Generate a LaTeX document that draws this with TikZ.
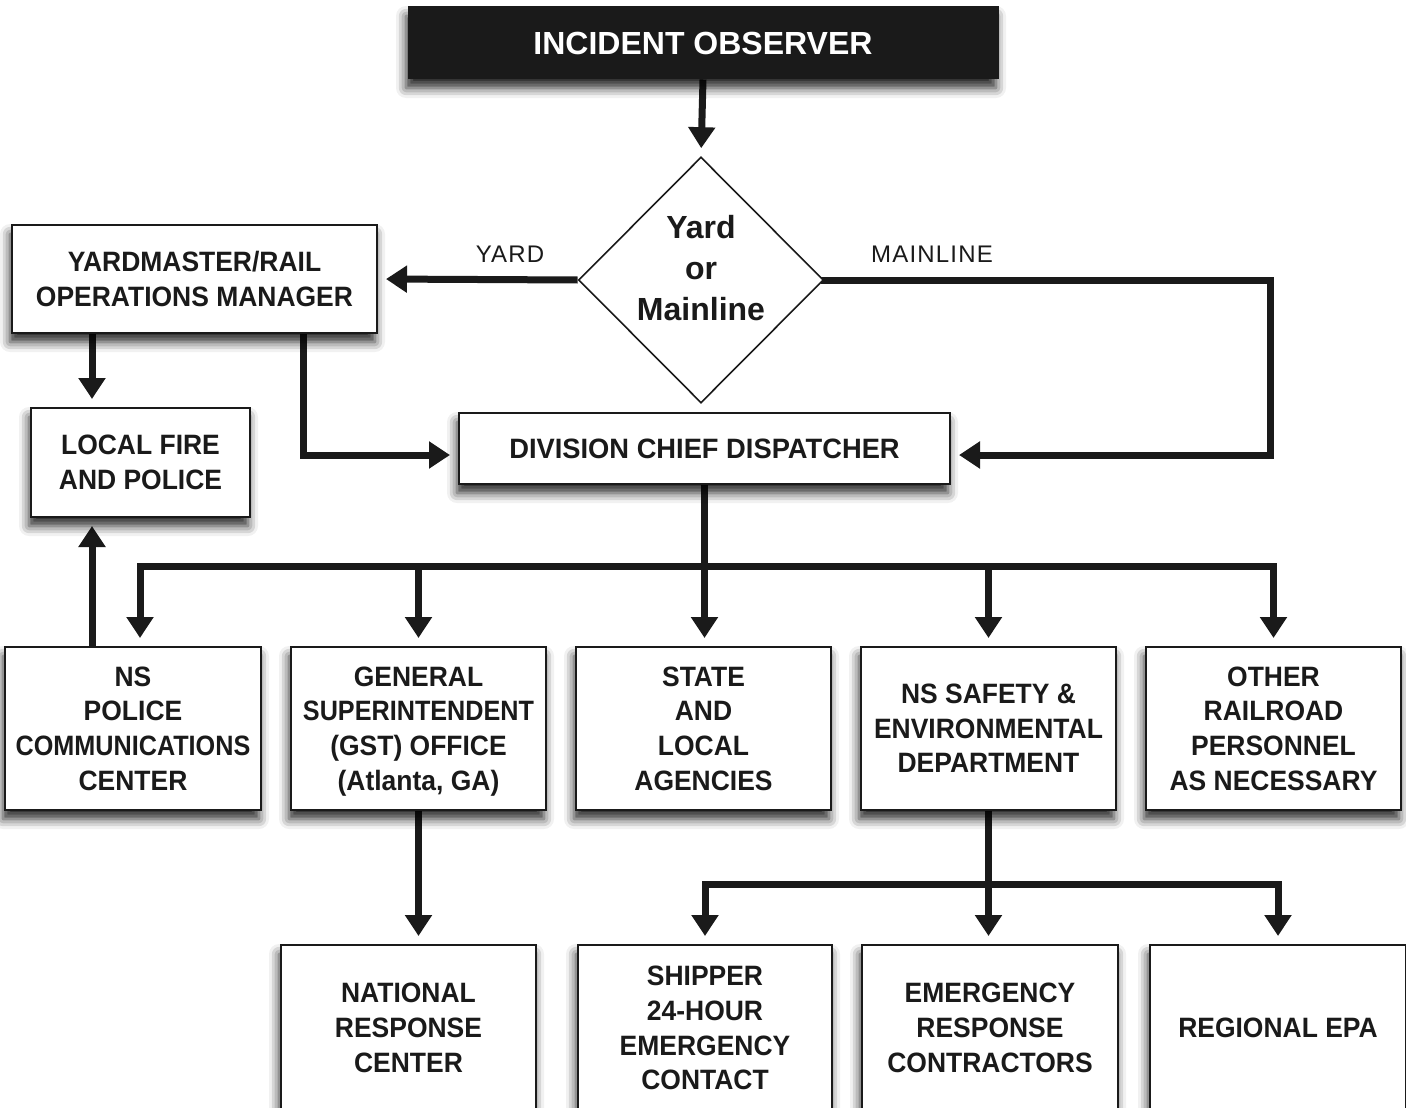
\documentclass[tikz,border=0pt]{standalone}
\usepackage{fontspec}
\setmainfont{Liberation Sans}
\newfontfamily\condfont{Liberation Sans}[FakeStretch=0.945]
\newfontfamily\tightfont{Liberation Sans}[FakeStretch=0.9]
\newfontfamily\dispfont{Liberation Sans}[FakeStretch=0.975]
\newfontfamily\labfont{Liberation Sans}[LetterSpace=5]
\usetikzlibrary{arrows.meta,shapes.geometric,shadows.blur}
\pgfdeclarelayer{bg}
\pgfsetlayers{bg,main}
\definecolor{ink}{HTML}{1A1A1A}
\begin{document}
\begin{tikzpicture}[x=1pt,y=-1pt,
  shad/.style={blur shadow={shadow xshift=-2pt,shadow yshift=-9pt,shadow blur radius=10pt,shadow opacity=85}},
  box/.style={shad,draw=ink,line width=2pt,fill=white,inner sep=0pt,align=center,text=ink,
    font=\condfont\bfseries\fontsize{28}{34.7}\selectfont},
  obsbox/.style={shad,draw=ink,line width=1pt,fill=ink,inner sep=0pt,align=center,text=white,
    font=\bfseries\fontsize{32}{36}\selectfont},
  decis/.style={diamond,draw=ink,line width=1.6pt,fill=white,inner sep=0pt,aspect=1},
  dtext/.style={align=center,text=ink,font=\bfseries\fontsize{32}{41}\selectfont},
  lab/.style={text=ink,font=\labfont\fontsize{24}{28}\selectfont},
  conn/.style={draw=ink,line width=7pt,line cap=rect},
  arr/.style={draw=ink,line width=7pt,-{Triangle[width=26pt,length=21pt]},shorten >=8pt}]
\useasboundingbox (0,0) rectangle (1406,1108);

% nodes
\node[obsbox,minimum width=590pt,minimum height=72pt] (obs) at (703,43) {INCIDENT OBSERVER};
\node[decis,minimum width=245pt,minimum height=246pt] (dia) at (701,280) {};
\node[dtext] (diat) at (701,268) {Yard\\or\\Mainline};
\node[box,minimum width=365pt,minimum height=108pt] (yard) at (194.5,279) {YARDMASTER/RAIL\\OPERATIONS MANAGER};
\node[box,minimum width=219pt,minimum height=109pt] (fire) at (140.5,462.5) {LOCAL FIRE\\AND POLICE};
\node[box,minimum width=491pt,minimum height=71pt,font=\dispfont\bfseries\fontsize{28}{34.7}\selectfont] (disp) at (704.5,448.5) {DIVISION CHIEF DISPATCHER};

\node[box,minimum width=256pt,minimum height=163pt] (police) at (133,728.5) {NS\\POLICE\\{\tightfont\bfseries COMMUNICATIONS}\\CENTER};
\node[box,minimum width=255pt,minimum height=163pt] (gen) at (418.5,728.5) {GENERAL\\{\tightfont\bfseries SUPERINTENDENT}\\(GST) OFFICE\\\smash{(Atlanta, GA)}};
\node[box,minimum width=255pt,minimum height=163pt] (state) at (703.5,728.5) {STATE\\AND\\LOCAL\\AGENCIES};
\node[box,minimum width=255pt,minimum height=163pt] (safety) at (988.5,728.5) {NS SAFETY \&\\ENVIRONMENTAL\\DEPARTMENT};
\node[box,minimum width=255pt,minimum height=163pt] (other) at (1273.5,728.5) {OTHER\\RAILROAD\\PERSONNEL\\AS NECESSARY};

\node[box,minimum width=255pt,minimum height=166pt] (nat) at (408.5,1028) {NATIONAL\\RESPONSE\\CENTER};
\node[box,minimum width=254pt,minimum height=166pt] (ship) at (705,1028) {SHIPPER\\24-HOUR\\EMERGENCY\\CONTACT};
\node[box,minimum width=256pt,minimum height=166pt] (emerg) at (990,1028) {EMERGENCY\\RESPONSE\\CONTRACTORS};
\node[box,minimum width=256pt,minimum height=166pt] (reg) at (1278,1028) {REGIONAL EPA};

\node[lab] (ylab) at (510,254) {YARD};
\node[lab] (mlab) at (932,254) {MAINLINE};

% helper coordinates
\coordinate (xl) at (92,0);
\coordinate (xr) at (303,0);
\coordinate (xm) at (1270,0);
\coordinate (ym) at (0,455);
\coordinate (xp) at (140,0);
\coordinate (bus) at (0,566);
\coordinate (bus2) at (0,884);

\begin{pgfonlayer}{bg}
\draw[arr] (obs.south) -- (dia.north);
\draw[arr] (dia.west) -- (yard.east);
\draw[conn] (dia.east) -- (xm |- dia.east) -- (xm |- ym);
\draw[arr] (xm |- ym) -- (disp.east |- ym);
\draw[arr] (xl |- yard.south) -- (xl |- fire.north);
\draw[conn] (xr |- yard.south) -- (xr |- ym);
\draw[arr] (xr |- ym) -- (disp.west |- ym);
\draw[arr] (xl |- police.north) -- (xl |- fire.south);
% dispatcher bus
\draw[arr] (disp.south) -- (disp.south |- state.north);
\draw[conn] (xp |- bus) -- (other.north |- bus);
\draw[arr] (xp |- bus) -- (xp |- police.north);
\draw[arr] (gen.north |- bus) -- (gen.north);
\draw[arr] (safety.north |- bus) -- (safety.north);
\draw[arr] (other.north |- bus) -- (other.north);
% general to national
\draw[arr] (gen.south) -- (gen.south |- nat.north);
% safety bus
\draw[arr] (safety.south) -- (safety.south |- emerg.north);
\draw[conn] (ship.north |- bus2) -- (reg.north |- bus2);
\draw[arr] (ship.north |- bus2) -- (ship.north);
\draw[arr] (reg.north |- bus2) -- (reg.north);
\end{pgfonlayer}
\end{tikzpicture}
\end{document}
